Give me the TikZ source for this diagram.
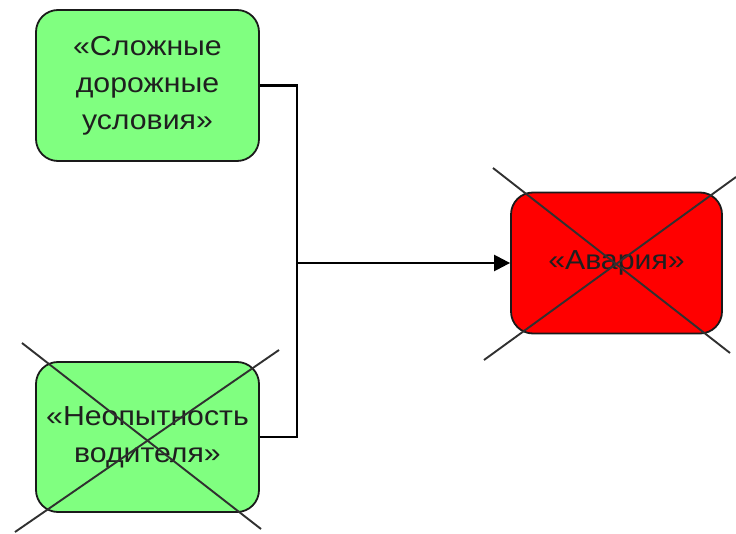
\documentclass[tikz,border=0pt]{standalone}
\usepackage{fontspec}
\setmainfont[FakeStretch=1.1]{Liberation Sans}
\usetikzlibrary{arrows.meta}
\definecolor{boxgreen}{HTML}{80FF80}
\definecolor{boxred}{HTML}{FF0000}
\definecolor{edgegray}{HTML}{1A1A1A}
\definecolor{crossgray}{HTML}{303030}
\tikzset{
  factbox/.style={draw=edgegray, line width=1.8pt, rounded corners=22pt,
    inner sep=0pt, align=center, text=black!88,
    font=\fontsize{27.5}{37}\selectfont},
  link/.style={draw=black, line width=2.4pt},
  crossline/.style={draw=crossgray, line width=1.9pt},
}
\begin{document}
\begin{tikzpicture}[x=1pt, y=-1pt]
  \useasboundingbox (0,0) rectangle (736,534);

  % factors and outcome
  \node[factbox, fill=boxgreen, minimum width=223pt, minimum height=151pt]
    (cond) at (147.5,85.5) {«Сложные\\дорожные\\условия»};
  \node[factbox, fill=boxgreen, minimum width=223pt, minimum height=150pt]
    (inexp) at (147.5,437) {«Неопытность\\водителя»};
  \node[factbox, fill=boxred, minimum width=211pt, minimum height=141pt]
    (crash) at (616.5,263) {«Авария»};

  % joining connectors
  \coordinate (joint) at (297,263);
  \draw[link] (cond.east) -| (joint);
  \draw[link] (inexp.east) -| (joint);
  \draw[link, -{Triangle[length=16pt, width=16pt]}] (joint) -- (crash.west);

  % crossed-out marks
  \draw[crossline] (22,343) -- (261,529);
  \draw[crossline] (279,350) -- (15,532);
  \draw[crossline] (493,168) -- (730,353);
  \draw[crossline] (736,177) -- (484,360);
\end{tikzpicture}
\end{document}
